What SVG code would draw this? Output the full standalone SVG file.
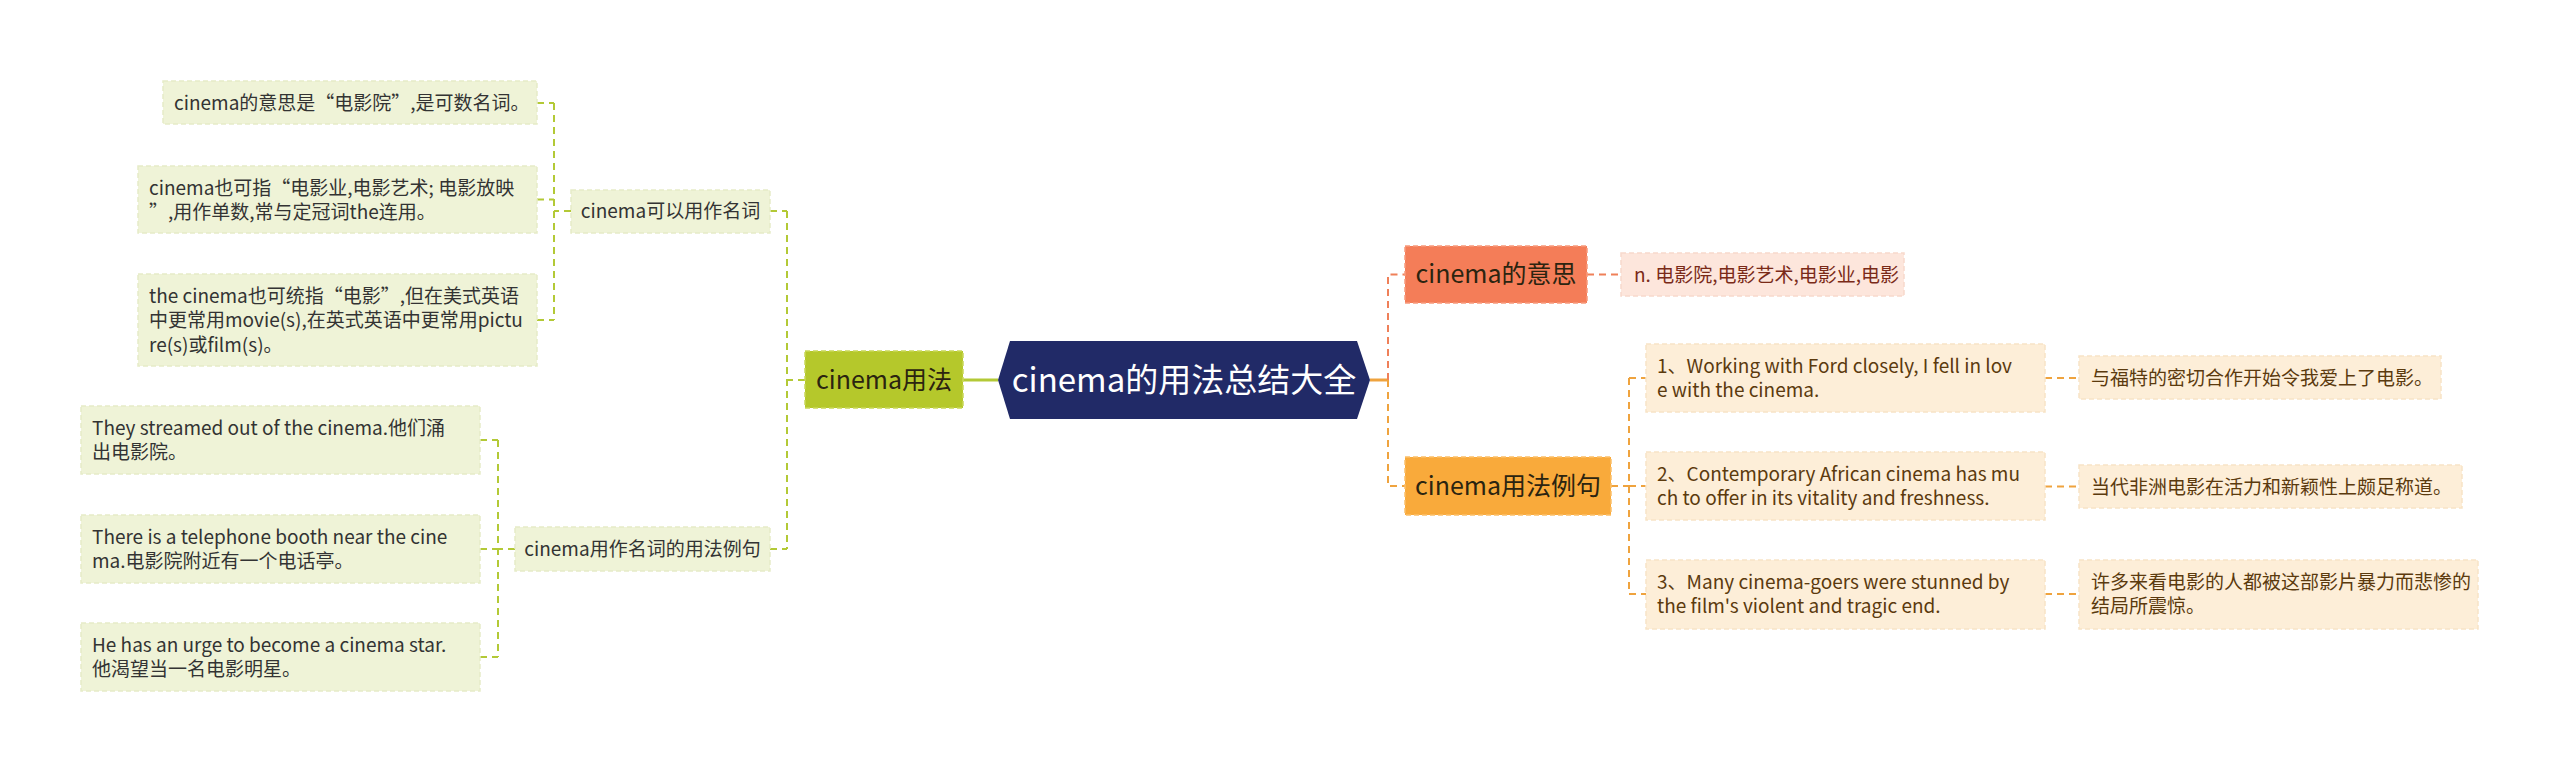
<svg xmlns="http://www.w3.org/2000/svg" width="2560" height="773" viewBox="0 0 2560 773">
<style>
text{font-family:"Noto Sans CJK SC","Microsoft YaHei",sans-serif;}
.t1{font-size:25px;fill:#2b2410;text-anchor:middle;}
.t2{font-size:19px;fill:#333333;}
.tr{font-size:19px;fill:#5b3a0e;}
.tn{font-size:19px;fill:#7a2a18;}
.lg{fill:#eff3d7;stroke:#e6ecc8;stroke-width:1.5;stroke-dasharray:5 3;}
.lo{fill:#fdeed8;stroke:#f8e4c6;stroke-width:1.5;stroke-dasharray:5 3;}
.lp{fill:#fde6dc;stroke:#f8d9cc;stroke-width:1.5;stroke-dasharray:5 3;}
.cg{fill:none;stroke:#b3c936;stroke-width:2;stroke-dasharray:7 5;}
.co{fill:none;stroke:#efa33e;stroke-width:2;stroke-dasharray:7 5;}
.cr{fill:none;stroke:#ef8059;stroke-width:2;stroke-dasharray:7 5;}
</style>
<rect width="2560" height="773" fill="#ffffff"/>
<g id="connectors">
<path d="M963,380 H998" stroke="#b3c936" stroke-width="3" fill="none"/>
<path d="M1370,380 H1388" stroke="#efa33e" stroke-width="3" fill="none"/>
<path class="cg" d="M805,380 H787 M787,211 V549 M770,211 H787 M770,549 H787"/>
<path class="cg" d="M571,211 H554 M554,103 V320 M537,103 H554 M537,199.5 H554 M537,320 H554"/>
<path class="cg" d="M515,549 H498 M498,440 V657 M480,440 H498 M480,549 H498 M480,657 H498"/>
<path class="cr" d="M1388,380 V274.5 H1405 M1587,274.5 H1621"/>
<path class="co" d="M1388,380 V486 H1405"/>
<path class="co" d="M1611,486 H1629 M1629,378 V594 M1629,378 H1646 M1629,486 H1646 M1629,594 H1646"/>
<path class="co" d="M2045,378 H2079 M2045,486.5 H2079 M2045,594 H2079"/>
</g>
<g id="root">
<polygon points="998,380 1010,341 1357,341 1370,380 1357,419 1010,419" fill="#212a67"/>
<text x="1184" y="392" font-size="33" fill="#ffffff" text-anchor="middle">cinema的用法总结大全</text>
</g>
<g id="n-usage">
<rect x="805" y="351" width="158" height="57" fill="#b5c82b" stroke="#c9d85a" stroke-width="1.5" stroke-dasharray="5 3"/>
<text class="t1" x="884" y="389">cinema用法</text>
</g>
<g id="n-meaning">
<rect x="1405" y="246" width="182" height="57" fill="#f47d58" stroke="#f89a7c" stroke-width="1.5" stroke-dasharray="5 3"/>
<text class="t1" x="1496" y="283">cinema的意思</text>
</g>
<g id="n-examples">
<rect x="1405" y="457" width="206" height="58" fill="#f9aa3b" stroke="#fbc06a" stroke-width="1.5" stroke-dasharray="5 3"/>
<text class="t1" x="1508" y="495">cinema用法例句</text>
</g>
<g id="n-noun">
<rect class="lg" x="571" y="190" width="199" height="43"/>
<text class="t2" x="670.5" y="218" text-anchor="middle">cinema可以用作名词</text>
</g>
<g id="n-noun-ex">
<rect class="lg" x="515" y="527" width="255" height="44"/>
<text class="t2" x="642.5" y="556" text-anchor="middle">cinema用作名词的用法例句</text>
</g>
<g id="l1">
<rect class="lg" x="163" y="81" width="374" height="43"/>
<text class="t2" x="174" y="109.5">cinema的意思是“电影院”,是可数名词。</text>
</g>
<g id="l2">
<rect class="lg" x="138" y="166" width="399" height="67"/>
<text class="t2" x="149" y="194.5">cinema也可指“电影业,电影艺术; 电影放映</text>
<text class="t2" x="149" y="219">”,用作单数,常与定冠词the连用。</text>
</g>
<g id="l3">
<rect class="lg" x="138" y="274" width="399" height="92"/>
<text class="t2" x="149" y="302.5">the cinema也可统指“电影”,但在美式英语</text>
<text class="t2" x="149" y="327">中更常用movie(s),在英式英语中更常用pictu</text>
<text class="t2" x="149" y="351.5">re(s)或film(s)。</text>
</g>
<g id="la">
<rect class="lg" x="81" y="406" width="399" height="68"/>
<text class="t2" x="92" y="434.75">They streamed out of the cinema.他们涌</text>
<text class="t2" x="92" y="459.25">出电影院。</text>
</g>
<g id="lb">
<rect class="lg" x="81" y="515" width="399" height="68"/>
<text class="t2" x="92" y="543.75">There is a telephone booth near the cine</text>
<text class="t2" x="92" y="568.25">ma.电影院附近有一个电话亭。</text>
</g>
<g id="lc">
<rect class="lg" x="81" y="623" width="399" height="68"/>
<text class="t2" x="92" y="651.75">He has an urge to become a cinema star.</text>
<text class="t2" x="92" y="676.25">他渴望当一名电影明星。</text>
</g>
<g id="rn">
<rect class="lp" x="1621" y="253" width="283" height="43"/>
<text class="tn" x="1634" y="281.5">n. 电影院,电影艺术,电影业,电影</text>
</g>
<g id="e1">
<rect class="lo" x="1646" y="344" width="399" height="68"/>
<text class="tr" x="1657" y="372.75">1、Working with Ford closely, I fell in lov</text>
<text class="tr" x="1657" y="397.25">e with the cinema.</text>
</g>
<g id="t1">
<rect class="lo" x="2079" y="356" width="362" height="43"/>
<text class="tr" x="2091" y="384.5">与福特的密切合作开始令我爱上了电影。</text>
</g>
<g id="e2">
<rect class="lo" x="1646" y="452" width="399" height="68"/>
<text class="tr" x="1657" y="480.75">2、Contemporary African cinema has mu</text>
<text class="tr" x="1657" y="505.25">ch to offer in its vitality and freshness.</text>
</g>
<g id="t2">
<rect class="lo" x="2079" y="465" width="383" height="43"/>
<text class="tr" x="2091" y="493.5">当代非洲电影在活力和新颖性上颇足称道。</text>
</g>
<g id="e3">
<rect class="lo" x="1646" y="560" width="399" height="69"/>
<text class="tr" x="1657" y="588.75">3、Many cinema-goers were stunned by</text>
<text class="tr" x="1657" y="613.25">the film's violent and tragic end.</text>
</g>
<g id="t3">
<rect class="lo" x="2079" y="560" width="399" height="69"/>
<text class="tr" x="2091" y="588.75">许多来看电影的人都被这部影片暴力而悲惨的</text>
<text class="tr" x="2091" y="613.25">结局所震惊。</text>
</g>
</svg>
